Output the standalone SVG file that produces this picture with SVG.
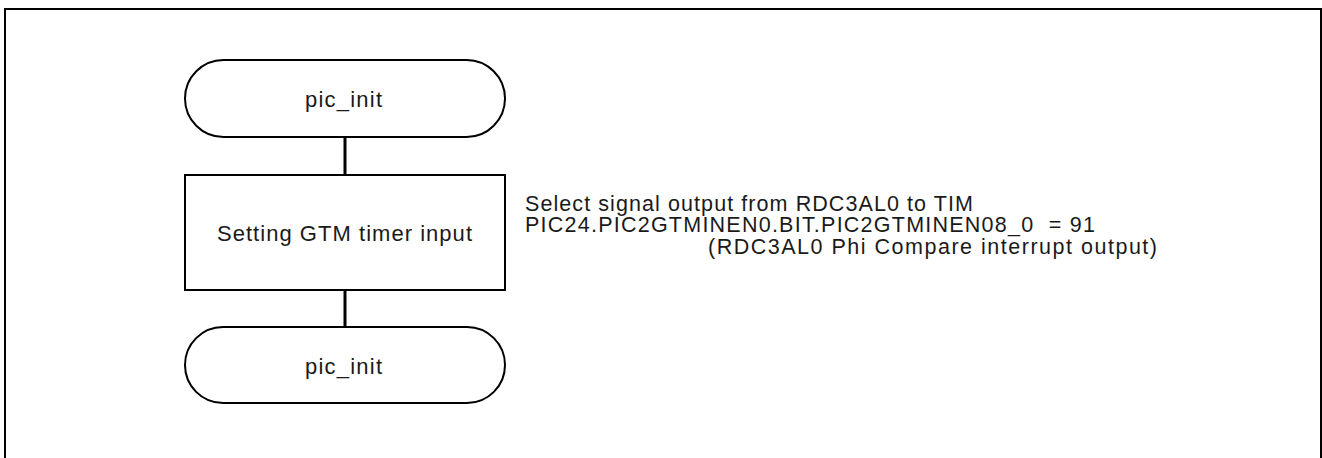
<svg xmlns="http://www.w3.org/2000/svg" width="1322" height="458" viewBox="0 0 1322 458">
  <style>
    .shape { fill: #ffffff; stroke: #000000; stroke-width: 2; }
    .link { stroke: #000000; stroke-width: 3; fill: none; }
    .label { font-family: "Liberation Sans", Arial, sans-serif; font-size: 22px; fill: #1a1a1a; }
    .note { font-family: "Liberation Sans", Arial, sans-serif; font-size: 21.5px; fill: #1a1a1a; }
    .frame { fill: none; stroke: #000000; stroke-width: 2; }
  </style>
  <rect width="1322" height="458" fill="#ffffff"/>
  <!-- outer frame, bottom edge runs past the page -->
  <rect class="frame" x="5" y="9" width="1316" height="470"/>

  <g id="connectors">
    <line class="link" x1="345" y1="137" x2="345" y2="175"/>
    <line class="link" x1="345" y1="290" x2="345" y2="327"/>
  </g>

  <g id="start">
    <rect class="shape" x="185" y="60" width="320" height="77" rx="38.5" ry="38.5"/>
    <text class="label" x="305" y="107" textLength="77" lengthAdjust="spacing">pic_init</text>
  </g>

  <g id="gtm-input">
    <rect class="shape" x="185" y="175" width="320" height="115"/>
    <text class="label" x="217" y="241" textLength="255" lengthAdjust="spacing">Setting GTM timer input</text>
  </g>

  <g id="end">
    <rect class="shape" x="185" y="327" width="320" height="76" rx="38" ry="38"/>
    <text class="label" x="305" y="374" textLength="77" lengthAdjust="spacing">pic_init</text>
  </g>

  <g id="note">
    <text class="note" x="525" y="210.5" textLength="448" lengthAdjust="spacing">Select signal output from RDC3AL0 to TIM</text>
    <text class="note" x="525" y="232" textLength="570" lengthAdjust="spacing" xml:space="preserve">PIC24.PIC2GTMINEN0.BIT.PIC2GTMINEN08_0  = 91</text>
    <text class="note" x="708" y="253.5" textLength="449" lengthAdjust="spacing">(RDC3AL0 Phi Compare interrupt output)</text>
  </g>
</svg>
